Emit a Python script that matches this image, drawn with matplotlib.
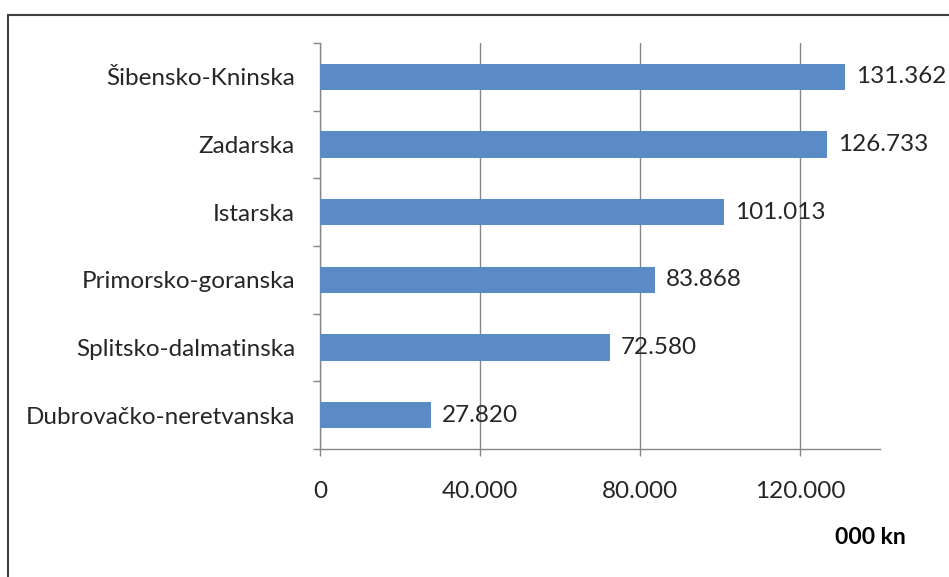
import matplotlib.pyplot as plt
from matplotlib.patches import Rectangle

# podaci (000 kn)
zupanije = ["Dubrovačko-neretvanska", "Splitsko-dalmatinska", "Primorsko-goranska",
            "Istarska", "Zadarska", "Šibensko-Kninska"]
iznosi = [27820, 72580, 83868, 101013, 126733, 131362]
xticks = [0, 40000, 80000, 120000]
xtick_labels = ["0", "40.000", "80.000", "120.000"]

plt.rcParams['font.family'] = ['Lato', 'DejaVu Sans']
txt = '#262626'
grid_c = '#868686'
fs = 17.5

fig = plt.figure(figsize=(9.49, 5.77), dpi=100)
W, H = 949, 577
ax = fig.add_axes([320 / W, 1 - 449 / H, 560 / W, 406 / H])

ax.barh(range(len(zupanije)), iznosi, height=0.385, color='#5B8BC6', zorder=3)
for i, v in enumerate(iznosi):
    lab = f"{v:,}".replace(",", ".")
    ax.text(v + 2700, i, lab, va='center', ha='left', fontsize=fs, color=txt, zorder=4)

ax.set_xlim(0, 140000)
ax.set_ylim(-0.5, len(zupanije) - 0.5)
ax.set_xticks(xticks)
ax.set_xticklabels(xtick_labels)
ax.set_yticks(range(len(zupanije)))
ax.set_yticklabels(zupanije)
ax.set_yticks([i - 0.5 for i in range(len(zupanije) + 1)], minor=True)

ax.tick_params(axis='y', which='major', length=0, pad=18, labelsize=fs, labelcolor=txt)
ax.tick_params(axis='y', which='minor', length=5, color=grid_c, width=1)
ax.tick_params(axis='x', which='major', length=5, color=grid_c, width=1, pad=18,
               labelsize=fs, labelcolor=txt)

ax.grid(axis='x', color=grid_c, linewidth=1, zorder=0)
for s in ['top', 'right']:
    ax.spines[s].set_visible(False)
for s in ['left', 'bottom']:
    ax.spines[s].set_color(grid_c)
    ax.spines[s].set_linewidth(1)

fig.text(870 / W, 1 - 538 / H, "000 kn", ha='center', va='center', fontsize=16.5,
         fontweight='bold', color='black')

# okvir
fig.patches.append(Rectangle((8 / W, -0.1), 1.1, 1 - 15 / H + 0.1, transform=fig.transFigure,
                             fill=False, edgecolor='#404040', linewidth=1.5))

fig.savefig("out.png", dpi=100)
